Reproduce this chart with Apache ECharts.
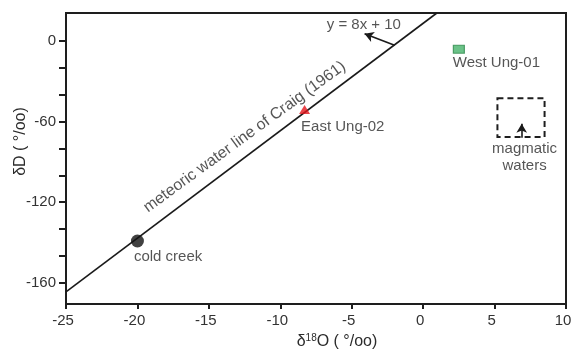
<!DOCTYPE html>
<html>
<head>
<meta charset="utf-8">
<script src="https://cdn.jsdelivr.net/npm/echarts@6/dist/echarts.min.js"></script>
<style>html,body{margin:0;padding:0;background:#fff;}#c{width:571px;height:352px;}</style>
</head>
<body>
<div id="c"></div>
<script>
// ---- data ----
const xMin = -25, xMax = 10, xStep = 5;
const yMin = -196, yMax = 21;
const yTickValues = [0, -20, -40, -60, -80, -100, -120, -140, -160, -180];
const yLabelValues = [0, -60, -120, -180];
const yLabelTexts = ['0', '-60', '-120', '-160'];

const meteoricLine = [[-25, -187], [0.96, 21]];
const coldCreek = [[-20, -149]];
const eastUng02 = [[-8.3, -51]];
const westUng01 = [[2.5, -6]];
const magmaticBox = [[5.2, -42.5], [8.5, -71.5]];
const magmaticArrow = [[6.9, -72], [6.9, -61.5]];
const equationArrow = [[-2.0, -3], [-4.1, 5.5]];

const equationLabelPos = [[-4.15, 12]];
const magmaticLabelPos = [[7.1, -87]];
const lineLabelPos = [[-12.5, -71.5]];

const FONT = 'Liberation Sans, Arial, sans-serif';
const TXT = '#2b2b2b';

const chart = echarts.init(document.getElementById('c'), null, {renderer: 'canvas'});
const hidden = {color: 'rgba(0,0,0,0)'};

chart.setOption({
  animation: false,
  backgroundColor: '#fff',
  grid: {left: 66, right: 5, top: 13, bottom: 48, show: true, borderColor: '#1e1e1e', borderWidth: 2,
         containLabel: false, outerBoundsMode: 'none'},
  xAxis: {
    type: 'value', min: xMin, max: xMax, interval: xStep,
    axisLine: {show: false, onZero: false},
    axisTick: {show: true, inside: false, length: 5, lineStyle: {color: '#1e1e1e', width: 2}},
    axisLabel: {color: '#333', fontSize: 15, fontFamily: FONT, margin: 9, padding: [0, 6, 0, 0]},
    splitLine: {show: false},
    name: '{a|δ}{s|18}{a|O ( °/oo)}',
    nameLocation: 'middle', nameGap: 29, nameMoveOverlap: false,
    nameTextStyle: {
      padding: [0, 0, 0, 42],
      rich: {
        a: {fontSize: 16, fontFamily: FONT, color: TXT},
        s: {fontSize: 10, fontFamily: FONT, color: TXT, padding: [0, 0, 8, 0]}
      }
    }
  },
  yAxis: {
    type: 'value', min: yMin, max: yMax,
    axisLine: {show: false, onZero: false},
    axisTick: {show: true, inside: false, length: 7, customValues: yTickValues, lineStyle: {color: '#1e1e1e', width: 2}},
    axisLabel: {
      color: '#333', fontSize: 15, fontFamily: FONT, margin: 10,
      customValues: yLabelValues,
      formatter: function (v) {
        const i = yLabelValues.indexOf(Math.round(v));
        return i >= 0 ? yLabelTexts[i] : '';
      }
    },
    splitLine: {show: false},
    name: 'δD ( °/oo)',
    nameLocation: 'middle', nameGap: 37, nameMoveOverlap: false,
    nameTextStyle: {fontSize: 16, fontFamily: FONT, color: TXT, padding: [0, 0, 0, 34]}
  },
  series: [
    {
      type: 'line', data: meteoricLine, symbol: 'none',
      lineStyle: {color: '#1a1a1a', width: 1.6}, z: 2,
      markLine: {
        silent: true, symbol: ['none', 'arrow'], symbolSize: [8, 9],
        lineStyle: {color: '#1a1a1a', width: 1.6, type: 'solid'},
        label: {show: false},
        data: [
          [{coord: equationArrow[0]}, {coord: equationArrow[1]}],
          [{coord: magmaticArrow[0]}, {coord: magmaticArrow[1]}]
        ]
      },
      markArea: {
        silent: true,
        itemStyle: {color: 'rgba(0,0,0,0)', borderColor: '#1e1e1e', borderWidth: 2, borderType: [6, 4]},
        label: {show: false},
        data: [[{coord: magmaticBox[0]}, {coord: magmaticBox[1]}]]
      }
    },
    {
      type: 'scatter', data: coldCreek, symbol: 'circle', symbolSize: 13,
      itemStyle: {color: '#111'}, z: 5,
      label: {show: true, formatter: 'cold creek', position: [3, 15], fontSize: 15, fontFamily: FONT, color: TXT}
    },
    {
      type: 'scatter', data: eastUng02, symbol: 'triangle', symbolSize: [11, 9],
      itemStyle: {color: '#e3151b'}, z: 5,
      label: {show: true, formatter: 'East Ung-02', position: [2, 14], fontSize: 15, fontFamily: FONT, color: TXT}
    },
    {
      type: 'scatter', data: westUng01, symbol: 'rect', symbolSize: [11, 8],
      itemStyle: {color: '#46b36a', borderColor: '#2f8a4c', borderWidth: 1}, z: 5,
      label: {show: true, formatter: 'West Ung-01', position: [0, 11], fontSize: 15, fontFamily: FONT, color: TXT}
    },
    {
      type: 'scatter', data: equationLabelPos, symbolSize: 1, itemStyle: hidden, silent: true,
      label: {show: true, formatter: 'y = 8x + 10', position: 'inside', fontSize: 15, fontFamily: FONT, color: TXT}
    },
    {
      type: 'scatter', data: magmaticLabelPos, symbolSize: 1, itemStyle: hidden, silent: true,
      label: {show: true, formatter: 'magmatic\nwaters', position: 'inside', align: 'center', lineHeight: 17, fontSize: 15, fontFamily: FONT, color: TXT}
    },
    {
      type: 'scatter', data: lineLabelPos, symbolSize: 1, itemStyle: hidden, silent: true,
      label: {show: true, formatter: 'meteoric water line of Craig (1961)', position: 'inside', rotate: 36, fontSize: 16, fontFamily: FONT, color: TXT}
    }
  ]
});
</script>
</body>
</html>
